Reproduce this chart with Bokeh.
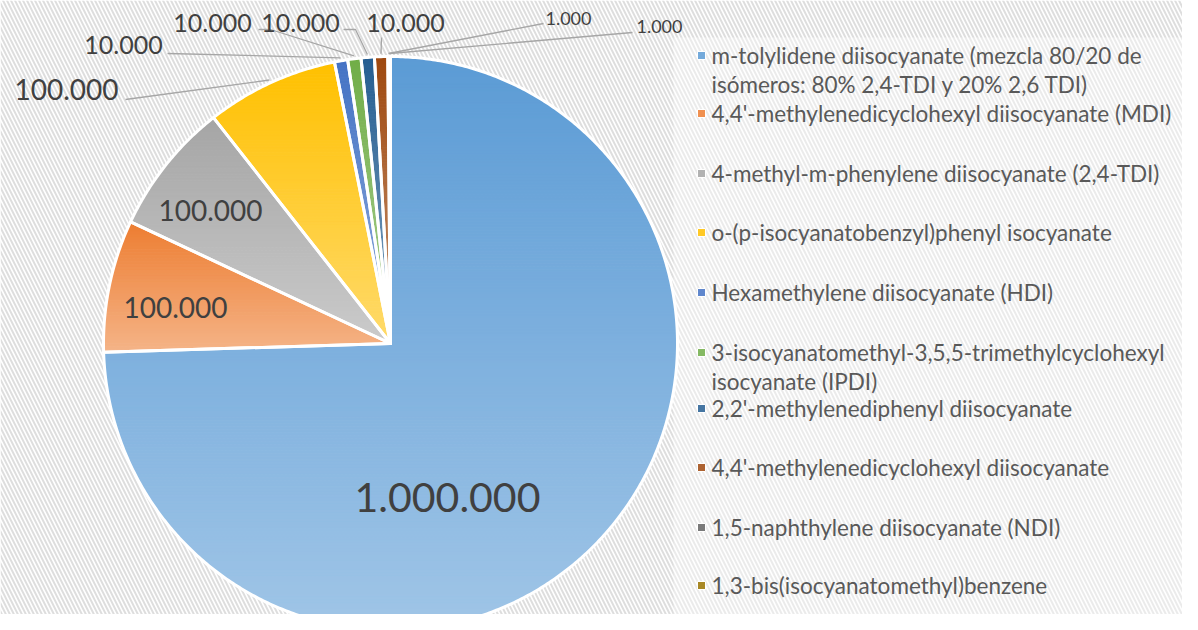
import numpy as np
from bokeh.plotting import figure
from bokeh.models import Range1d
from bokeh.core.properties import value
from bokeh.embed import file_html
from bokeh.resources import INLINE

# ---------------- data ----------------
names = [
    "m-tolylidene diisocyanate (mezcla 80/20 de\nisómeros: 80% 2,4-TDI y 20% 2,6 TDI)",
    "4,4'-methylenedicyclohexyl diisocyanate (MDI)",
    "4-methyl-m-phenylene diisocyanate (2,4-TDI)",
    "o-(p-isocyanatobenzyl)phenyl isocyanate",
    "Hexamethylene diisocyanate (HDI)",
    "3-isocyanatomethyl-3,5,5-trimethylcyclohexyl\nisocyanate (IPDI)",
    "2,2'-methylenediphenyl diisocyanate",
    "4,4'-methylenedicyclohexyl diisocyanate",
    "1,5-naphthylene diisocyanate (NDI)",
    "1,3-bis(isocyanatomethyl)benzene",
]
values = [1000000, 100000, 100000, 100000, 10000, 10000, 10000, 10000, 1000, 1000]
colors = ["#5B9BD5", "#ED7D31", "#A5A5A5", "#FFC000", "#4472C4",
          "#70AD47", "#255E91", "#9E480E", "#636363", "#997300"]

# ---------------- layout ----------------
W, H = 1182, 614
CX, CY, R = 390.0, 343.0, 287.0
label_pos = [(447, 497), (175, 307), (210, 210), (66, 89), (123, 44),
             (212, 22), (300, 22), (405, 22), (568, 18), (659, 26)]
label_size = [41, 28, 28, 28, 25, 25, 25, 25, 18, 18]
leader_start = [None, None, None, (125, 99), (167, 53), (258, 29),
                (343, 29), (381, 37), (543, 23), (632, 32)]
leader_elbow = [None, None, None, None, None, (270, 29), (355, 29), None, None, None]
legend_y = [55, 113, 173, 232, 292, 352, 408, 467, 527, 585]
LINE_GAP = 29


def mix(hexc, t):
    hexc = hexc.lstrip("#")
    c = [int(hexc[i:i + 2], 16) for i in (0, 2, 4)]
    c = [round(v + (255 - v) * t) for v in c]
    return "#%02x%02x%02x" % tuple(c)


def clip_half(pts, yc, sign):
    out = []
    n = len(pts)
    for i in range(n):
        P = pts[i]
        Q = pts[(i + 1) % n]
        pin = sign * (P[1] - yc) >= 0
        qin = sign * (Q[1] - yc) >= 0
        if pin:
            out.append(P)
        if pin != qin:
            t = (yc - P[1]) / (Q[1] - P[1])
            out.append((P[0] + t * (Q[0] - P[0]), yc))
    return out


def ptc(theta, r):
    return (CX + r * np.sin(theta), CY - r * np.cos(theta))


p = figure(width=W, height=H, output_backend="svg", toolbar_location=None,
           x_range=Range1d(0, W), y_range=Range1d(H, 0),
           min_border=0)
p.axis.visible = False
p.grid.visible = False
p.outline_line_color = None
p.background_fill_color = "white"
p.border_fill_color = "white"

# hatched background
p.quad(left=[0], right=[W], top=[0], bottom=[H], fill_color="white",
       hatch_pattern="\\", hatch_color="#DEDEDE", hatch_weight=2,
       hatch_scale=8, line_color=None)
# legend area (lighter)
p.quad(left=[673], right=[W], top=[37], bottom=[H], fill_color="white",
       fill_alpha=0.4, line_color=None)

total = float(sum(values))
cum = np.concatenate([[0.0], np.cumsum(values)]) / total * 2 * np.pi

sxs, sys_, scol = [], [], []
oxs, oys = [], []
for i, v in enumerate(values):
    a0, a1 = cum[i], cum[i + 1]
    n = max(2, int(np.degrees(a1 - a0) / 0.5) + 2)
    th = np.linspace(a0, a1, n)
    poly = [(CX, CY)] + [ptc(t, R) for t in th]
    oxs.append([q[0] for q in poly])
    oys.append([q[1] for q in poly])
    ys = [q[1] for q in poly]
    ymin, ymax = min(ys), max(ys)
    nstr = max(1, int((ymax - ymin) / 3))
    h = (ymax - ymin) / nstr
    for k in range(nstr):
        y0 = ymin + k * h
        y1 = y0 + h
        c = clip_half(poly, y0, +1)
        if len(c) >= 3:
            c = clip_half(c, y1, -1)
        if len(c) < 3:
            continue
        sxs.append([q[0] for q in c])
        sys_.append([q[1] for q in c])
        scol.append(mix(colors[i], 0.42 * (k + 0.5) / nstr))

p.patches(sxs, sys_, fill_color=scol, line_color=scol, line_width=1)
p.patches(oxs, oys, fill_alpha=0, line_color="white", line_width=3,
          line_join="round")

# leader lines
for i in range(len(values)):
    if leader_start[i] is None:
        continue
    mid = (cum[i] + cum[i + 1]) / 2
    ex, ey = ptc(mid, R + 3)
    xs = [leader_start[i][0]]
    ys = [leader_start[i][1]]
    if leader_elbow[i] is not None:
        xs.append(leader_elbow[i][0])
        ys.append(leader_elbow[i][1])
    xs.append(ex)
    ys.append(ey)
    p.line(xs, ys, line_color="#A6A6A6", line_width=1.3)

# data labels
for i, v in enumerate(values):
    txt = f"{v:,}".replace(",", ".")
    p.text(x=[label_pos[i][0]], y=[label_pos[i][1]], text=[txt],
           text_font=value("Lato"), text_font_size=f"{label_size[i]}px",
           text_color="#404040", text_align="center", text_baseline="middle")

# legend
for i, nm in enumerate(names):
    p.scatter(x=[701], y=[legend_y[i]], marker="square", size=8,
              fill_color=mix(colors[i], 0.15), line_color="white", line_width=1)
    for j, line in enumerate(nm.split("\n")):
        p.text(x=[711], y=[legend_y[i] + j * LINE_GAP], text=[line],
               text_font=value("Lato"), text_font_size="22.5px",
               text_color="#595959", text_align="left", text_baseline="middle")

open("out.html", "w").write(file_html(p, INLINE))
